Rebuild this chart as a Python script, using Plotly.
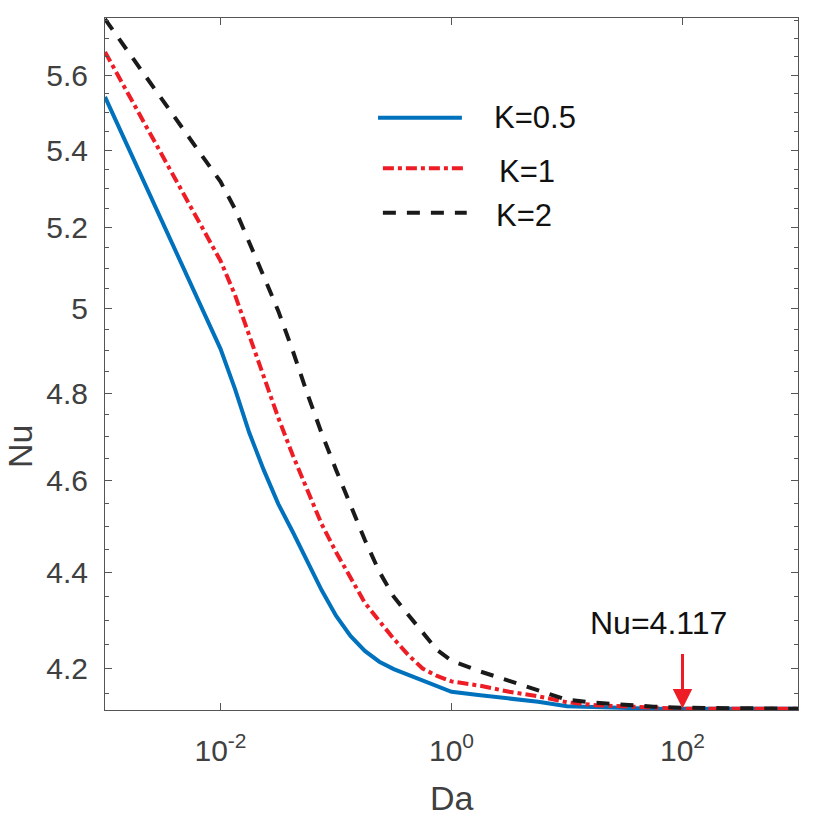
import math
import plotly.graph_objects as go

# ---- data ----
da = [0.001, 0.01, 0.01334, 0.01778, 0.02371, 0.03162, 0.04217, 0.05623, 0.07499,
      0.1, 0.1334, 0.1778, 0.2371, 0.3162, 0.4217, 0.5623, 0.7499, 1,
      1.778, 3.162, 5.623, 10, 17.78, 31.62, 56.23, 100, 316.2, 1000]
nu_k05 = [5.541, 4.904, 4.810, 4.708, 4.624, 4.549, 4.488, 4.425, 4.363,
          4.309, 4.267, 4.236, 4.214, 4.199, 4.187, 4.175, 4.164, 4.153,
          4.146, 4.140, 4.133, 4.124, 4.122, 4.120, 4.119, 4.119, 4.119, 4.119]
nu_k1 = [5.663, 5.118, 5.034, 4.933, 4.836, 4.743, 4.658, 4.578, 4.505,
         4.444, 4.389, 4.336, 4.298, 4.261, 4.228, 4.200, 4.185, 4.174,
         4.165, 4.153, 4.144, 4.132, 4.126, 4.123, 4.121, 4.119, 4.119, 4.119]
nu_k2 = [5.754, 5.318, 5.248, 5.165, 5.079, 4.995, 4.900, 4.800, 4.708,
         4.625, 4.545, 4.470, 4.402, 4.349, 4.311, 4.273, 4.238, 4.216,
         4.194, 4.175, 4.156, 4.137, 4.131, 4.126, 4.123, 4.121, 4.119, 4.119]
series_names = ["K=0.5", "K=1", "K=2"]

x_tickvals = [0.01, 1, 100]
x_ticktext = ["10<sup>-2</sup>", "10<sup>0</sup>", "10<sup>2</sup>"]
y_tickvals = [4.2, 4.4, 4.6, 4.8, 5.0, 5.2, 5.4, 5.6]
y_ticktext = ["4.2", "4.4", "4.6", "4.8", "5", "5.2", "5.4", "5.6"]
y_minor = [4.15, 4.25, 4.3, 4.35, 4.45, 4.5, 4.55, 4.65, 4.7, 4.75, 4.85, 4.9,
           4.95, 5.05, 5.1, 5.15, 5.25, 5.3, 5.35, 5.45, 5.5, 5.55, 5.65, 5.7, 5.75]
y_min, y_max = 4.1165, 5.757
arrow_da, arrow_nu = 100, 4.1195
note_text = "Nu=4.117"

FONT = "Liberation Sans, Arial, Helvetica, sans-serif"
AXC = "#555555"
TXC = "#404040"
BLUE = "#0072BD"
RED = "#EE1C25"
BLACK = "#1A1A1A"
LW = 4

styles = [
    dict(color=BLUE, width=LW, dash="solid"),
    dict(color=RED, width=LW, dash="11px,4px,4px,4px"),
    dict(color=BLACK, width=LW, dash="13px,11px"),
]

fig = go.Figure()
for name, ys, st in zip(series_names, [nu_k05, nu_k1, nu_k2], styles):
    fig.add_trace(go.Scatter(x=da, y=ys, mode="lines", name=name,
                             line=st, showlegend=False))

axis_common = dict(
    type="log", showgrid=False, zeroline=False, showline=True,
    linecolor=AXC, linewidth=1, mirror="ticks", ticks="inside",
    ticklen=7, tickwidth=1, tickcolor=AXC,
    tickfont=dict(family=FONT, size=30, color=TXC),
)

fig.update_layout(
    width=828, height=836,
    margin=dict(l=105, r=30, t=18, b=126),
    paper_bgcolor="white", plot_bgcolor="white",
    xaxis=dict(axis_common, range=[-3, 3], tickmode="array",
               tickvals=x_tickvals, ticktext=x_ticktext, ticklabelstandoff=14),
    yaxis=dict(axis_common, range=[math.log10(y_min), math.log10(y_max)],
               tickmode="array", tickvals=y_tickvals, ticktext=y_ticktext,
               ticklabelstandoff=10,
               minor=dict(tickmode="array", tickvals=y_minor, ticks="inside",
                          ticklen=4, tickcolor=AXC, tickwidth=1)),
)

# axis titles
fig.add_annotation(text="Da", xref="paper", yref="paper", x=0.5, y=-0.127,
                   showarrow=False, xanchor="center", yanchor="middle",
                   font=dict(family=FONT, size=34, color=TXC))
fig.add_annotation(text="Nu", xref="paper", yref="paper", x=-0.1227, y=0.3815,
                   showarrow=False, textangle=-90, xanchor="center",
                   yanchor="middle", font=dict(family=FONT, size=34, color=TXC))

# manual legend
leg = [
    (0.394, 0.515, 0.8559, 0.558, 0.8565),
    (0.401, 0.522, 0.7828, 0.5657, 0.7779),
    (0.401, 0.522, 0.7186, 0.5613, 0.7153),
]
for (x0, x1, yl, xt, yt), name, st in zip(leg, series_names, styles):
    fig.add_shape(type="line", xref="paper", yref="paper", x0=x0, x1=x1,
                  y0=yl, y1=yl, line=st)
    fig.add_annotation(text=name, xref="paper", yref="paper", x=xt, y=yt,
                       showarrow=False, xanchor="left", yanchor="middle",
                       font=dict(family=FONT, size=31, color="#111111"))

# Nu=4.117 note and arrow
fig.add_annotation(text=note_text, xref="paper", yref="paper", x=0.697, y=0.1257,
                   showarrow=False, xanchor="left", yanchor="middle",
                   font=dict(family=FONT, size=32, color="#111111"))
fig.add_annotation(text="", x=math.log10(arrow_da), y=math.log10(arrow_nu),
                   xref="x", yref="y", showarrow=True, ax=0, ay=-56,
                   arrowcolor=RED, arrowwidth=3, arrowhead=2, arrowsize=1.3)

fig.write_html("out.html")
